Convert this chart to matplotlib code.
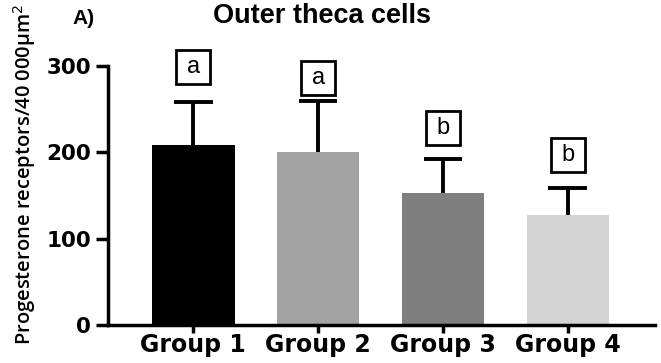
import matplotlib
matplotlib.use("Agg")
import matplotlib.pyplot as plt
import numpy as np

groups = ["Group 1", "Group 2", "Group 3", "Group 4"]
means = [209, 200, 153, 128]
sd_upper = [49, 60, 39, 31]
letters = ["a", "a", "b", "b"]
letter_y = [299, 286, 228, 197]
colors = ["#000000", "#a3a3a3", "#7f7f7f", "#d4d4d4"]
yticks = [0, 100, 200, 300]

fig = plt.figure(figsize=(6.61, 3.63), dpi=100)
ax = fig.add_axes([0.1634, 0.1047, 0.8276, 0.7133])

x = np.arange(len(groups))
means_a = np.array(means)
tops = means_a + np.array(sd_upper)
bw = 0.66
ax.bar(x, means, width=bw, color=colors, zorder=2)
ax.vlines(x, means_a, tops, colors="black", lw=2.8, zorder=1)
ax.hlines(tops, x - 0.155, x + 0.155, colors="black", lw=2.8, zorder=1)

for xi, lab, ly in zip(x, letters, letter_y):
    ax.plot([xi], [ly], marker="s", markersize=25, mfc="white", mec="black",
            mew=2, clip_on=False, zorder=3)
    ax.text(xi, ly, lab, ha="center", va="center", fontsize=17,
            family="Liberation Sans", clip_on=False, zorder=4)

ax.set_xlim(-0.684, 3.7)
ax.set_ylim(0, 300)
ax.set_yticks(yticks)
ax.set_yticklabels([str(t) for t in yticks], fontsize=15.5, fontweight="bold",
                   family="DejaVu Sans")
ax.set_xticks(x)
ax.set_xticklabels(groups, fontsize=17, fontweight="bold", family="DejaVu Sans")

for s in ["top", "right"]:
    ax.spines[s].set_visible(False)
for s in ["left", "bottom"]:
    ax.spines[s].set_linewidth(2.5)
ax.tick_params(axis="y", length=9, width=2.5, pad=3)
ax.tick_params(axis="x", length=6, width=2.5, pad=0)

ax.set_ylabel("Progesterone receptors/40 000µm$^2$", fontsize=14.5,
              family="Open Sans", fontweight="semibold")
ax.yaxis.label.set_va("center")
ax.yaxis.set_label_coords(-0.152, 0.58)

fig.text(322 / 661, 1 - 16 / 363, "Outer theca cells", ha="center", va="center",
         fontsize=19.5, fontweight="bold", family="Liberation Sans")
fig.text(84 / 661, 1 - 18 / 363, "A)", ha="center", va="center",
         fontsize=15, fontweight="bold", family="Liberation Sans")

fig.savefig("out.png", dpi=100)
